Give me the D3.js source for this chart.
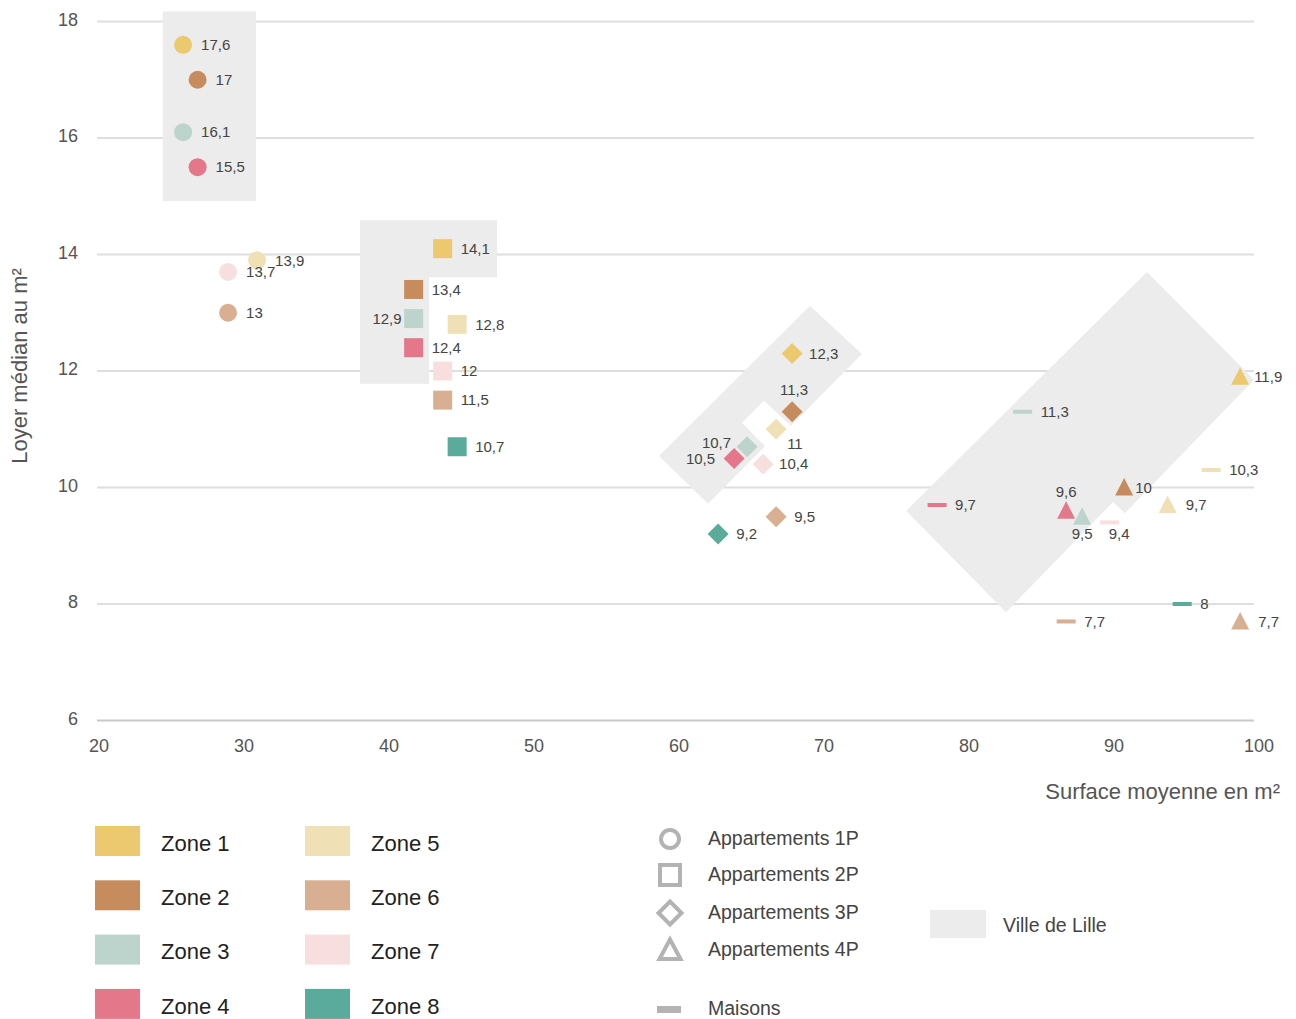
<!DOCTYPE html>
<html>
<head>
<meta charset="utf-8">
<script src="https://cdn.jsdelivr.net/npm/d3@7"></script>
<style>
  body { margin: 0; background: #fff; }
  svg { font-family: "Liberation Sans", Arial, sans-serif; }
</style>
</head>
<body>
<div id="chart"></div>
<script>
// zones and their colours
var zones = ["Zone 1", "Zone 2", "Zone 3", "Zone 4", "Zone 5", "Zone 6", "Zone 7", "Zone 8"];
var zoneColors = ["#ecc96f", "#c68c5e", "#bcd4cb", "#e4778a", "#f0e0b6", "#d8af90", "#f7dfe0", "#5aab9b"];

// surface moyenne (m²) and loyer médian (€/m²), one entry per zone, null = no value
var surf1P = [25.8, 26.8, 25.8, 26.8, 30.9, 28.9, 28.9, null];
var loyer1P = [17.6, 17, 16.1, 15.5, 13.9, 13, 13.7, null];

var surf2P = [43.7, 41.7, 41.7, 41.7, 44.7, 43.7, 43.7, 44.7];
var loyer2P = [14.1, 13.4, 12.9, 12.4, 12.8, 11.5, 12, 10.7];

var surf3P = [67.8, 67.8, 64.7, 63.8, 66.7, 66.7, 65.8, 62.7];
var loyer3P = [12.3, 11.3, 10.7, 10.5, 11, 9.5, 10.4, 9.2];

var surf4P = [98.7, 90.7, 87.8, 86.7, 93.7, 98.7, null, null];
var loyer4P = [11.9, 10, 9.5, 9.6, 9.7, 7.7, null, null];

var surfMaisons = [null, null, 83.7, 77.8, 96.7, 86.7, 89.7, 94.7];
var loyerMaisons = [null, null, 11.3, 9.7, 10.3, 7.7, 9.4, 8];

// "Ville de Lille" areas, in data units [surface, loyer]
var lille1P = [[24.4, 18.17], [30.83, 18.17], [30.83, 14.92], [24.4, 14.92]];
var lille2P = [[38, 14.59], [47.45, 14.59], [47.45, 13.61], [42.76, 13.61], [42.76, 11.78], [38, 11.78]];
var lille3P = [[69.03, 13.12], [72.62, 12.29], [67.72, 11.06], [65.86, 11.49], [64.34, 11.11], [65.93, 10.71], [62.0, 9.72], [58.62, 10.54]];
var lille4P = [[92.28, 13.70], [99.66, 11.85], [90.76, 9.56], [89.93, 9.75], [82.55, 7.86], [75.66, 9.60]];

var xTicks = [20, 30, 40, 50, 60, 70, 80, 90, 100];
var yTicks = [6, 8, 10, 12, 14, 16, 18];

var types = [
    {key: "1P", label: "Appartements 1P", shape: "circle", surf: surf1P, loyer: loyer1P},
    {key: "2P", label: "Appartements 2P", shape: "square", surf: surf2P, loyer: loyer2P},
    {key: "3P", label: "Appartements 3P", shape: "diamond", surf: surf3P, loyer: loyer3P},
    {key: "4P", label: "Appartements 4P", shape: "triangle", surf: surf4P, loyer: loyer4P},
    {key: "M", label: "Maisons", shape: "dash", surf: surfMaisons, loyer: loyerMaisons}
];

// where the value labels go when not simply on the right
var labelPlacement = {
    "2P-2": {anchor: "end", dx: -12, dy: 0},
    "3P-0": {anchor: "start", dx: 17, dy: 0},
    "3P-1": {anchor: "middle", dx: 2, dy: -22},
    "3P-2": {anchor: "end", dx: -16, dy: -4},
    "3P-3": {anchor: "end", dx: -19, dy: 0},
    "3P-4": {anchor: "start", dx: 11, dy: 14},
    "3P-6": {anchor: "start", dx: 16, dy: 0},
    "4P-0": {anchor: "start", dx: 14, dy: 0},
    "4P-1": {anchor: "start", dx: 11, dy: 0},
    "4P-2": {anchor: "middle", dx: 0, dy: 17},
    "4P-3": {anchor: "middle", dx: 0, dy: -19},
    "M-6": {anchor: "start", dx: -1, dy: 11}
};

var width = 1296, height = 1019;

var svg = d3.select("#chart").append("svg")
    .attr("width", width)
    .attr("height", height);

var x = d3.scaleLinear().domain([20, 100]).range([99, 1259]);
var y = d3.scaleLinear().domain([6, 18]).range([720.5, 21.5]);

// grid
svg.append("g").selectAll("line")
    .data(yTicks)
    .enter().append("line")
    .attr("x1", 97)
    .attr("x2", 1254)
    .attr("y1", function(d) { return y(d); })
    .attr("y2", function(d) { return y(d); })
    .attr("stroke", function(d) { return d == 6 ? "#c9c9c9" : "#dedede"; })
    .attr("stroke-width", 2);

// y tick labels
svg.append("g").selectAll("text")
    .data(yTicks)
    .enter().append("text")
    .attr("x", 78)
    .attr("y", function(d) { return y(d) - 2; })
    .attr("dy", "0.35em")
    .attr("text-anchor", "end")
    .attr("font-size", 18)
    .attr("fill", "#555")
    .text(function(d) { return d; });

// x tick labels
svg.append("g").selectAll("text")
    .data(xTicks)
    .enter().append("text")
    .attr("x", function(d) { return x(d); })
    .attr("y", 746)
    .attr("dy", "0.35em")
    .attr("text-anchor", "middle")
    .attr("font-size", 18)
    .attr("fill", "#555")
    .text(function(d) { return d; });

// axis titles
svg.append("text")
    .attr("x", 1280)
    .attr("y", 791)
    .attr("dy", "0.35em")
    .attr("text-anchor", "end")
    .attr("font-size", 22)
    .attr("fill", "#555")
    .text("Surface moyenne en m²");

svg.append("text")
    .attr("transform", "translate(19,366) rotate(-90)")
    .attr("dy", "0.35em")
    .attr("text-anchor", "middle")
    .attr("font-size", 22)
    .attr("fill", "#555")
    .text("Loyer médian au m²");

// Ville de Lille areas
var line = d3.line()
    .x(function(d) { return x(d[0]); })
    .y(function(d) { return y(d[1]); })
    .curve(d3.curveLinearClosed);

svg.append("g").selectAll("path")
    .data([lille1P, lille2P, lille3P, lille4P])
    .enter().append("path")
    .attr("d", line)
    .attr("fill", "#ececec");

// shapes
function shapePath(shape) {
    if (shape == "circle") return d3.symbol().type(d3.symbolCircle).size(Math.PI * 81)();
    if (shape == "square") return "M-9.5,-9.5H9.5V9.5H-9.5Z";
    if (shape == "diamond") return "M0,-10.5L10.5,0L0,10.5L-10.5,0Z";
    if (shape == "triangle") return "M0,-9.5L9,8L-9,8Z";
    return "M-9.5,-2H9.5V2H-9.5Z";
}

var points = [];
types.forEach(function(t) {
    t.surf.forEach(function(s, i) {
        if (s == null) return;
        points.push({type: t, zone: i, surf: s, loyer: t.loyer[i]});
    });
});

var marks = svg.append("g");
marks.selectAll("path")
    .data(points)
    .enter().append("path")
    .attr("transform", function(d) { return "translate(" + x(d.surf) + "," + y(d.loyer) + ")"; })
    .attr("d", function(d) { return shapePath(d.type.shape); })
    .attr("fill", function(d) { return zoneColors[d.zone]; });

marks.selectAll("text")
    .data(points)
    .enter().append("text")
    .each(function(d) {
        var p = labelPlacement[d.type.key + "-" + d.zone] || {anchor: "start", dx: 18, dy: 0};
        d3.select(this)
            .attr("x", x(d.surf) + p.dx)
            .attr("y", y(d.loyer) + p.dy)
            .attr("text-anchor", p.anchor);
    })
    .attr("dy", "0.35em")
    .attr("font-size", 15)
    .attr("fill", "#444")
    .text(function(d) { return String(d.loyer).replace(".", ","); });

// legend: zones
var zoneLegend = svg.append("g");
zones.forEach(function(z, i) {
    var col = Math.floor(i / 4), row = i % 4;
    var gx = 95 + col * 210, gy = 826 + row * 54.3;
    zoneLegend.append("rect")
        .attr("x", gx).attr("y", gy)
        .attr("width", 45).attr("height", 30)
        .attr("fill", zoneColors[i]);
    zoneLegend.append("text")
        .attr("x", gx + 66).attr("y", gy + 17)
        .attr("dy", "0.35em")
        .attr("font-size", 22)
        .attr("fill", "#222")
        .text(z);
});

// legend: types
var typeLegend = svg.append("g");
var typeRows = [838, 874, 912, 949, 1008];
var legendPaths = {
    circle: d3.symbol().type(d3.symbolCircle).size(Math.PI * 81)(),
    square: "M-10,-10H10V10H-10Z",
    diamond: "M0,-11.5L11.5,0L0,11.5L-11.5,0Z",
    triangle: "M0,-10.5L10.5,9L-10.5,9Z"
};
types.forEach(function(t, i) {
    var cy = typeRows[i];
    if (t.shape == "dash") {
        typeLegend.append("rect")
            .attr("x", 657).attr("y", cy - 2)
            .attr("width", 24).attr("height", 7)
            .attr("fill", "#b3b3b3");
    } else {
        typeLegend.append("path")
            .attr("transform", "translate(670," + (cy + 1) + ")")
            .attr("d", legendPaths[t.shape])
            .attr("fill", "none")
            .attr("stroke", "#b3b3b3")
            .attr("stroke-width", 4);
    }
    typeLegend.append("text")
        .attr("x", 708).attr("y", cy)
        .attr("dy", "0.35em")
        .attr("font-size", 19.5)
        .attr("fill", "#444")
        .text(t.label);
});

typeLegend.append("rect")
    .attr("x", 930).attr("y", 910)
    .attr("width", 56).attr("height", 28)
    .attr("fill", "#ececec");
typeLegend.append("text")
    .attr("x", 1003).attr("y", 925)
    .attr("dy", "0.35em")
    .attr("font-size", 19.5)
    .attr("fill", "#444")
    .text("Ville de Lille");
</script>
</body>
</html>
